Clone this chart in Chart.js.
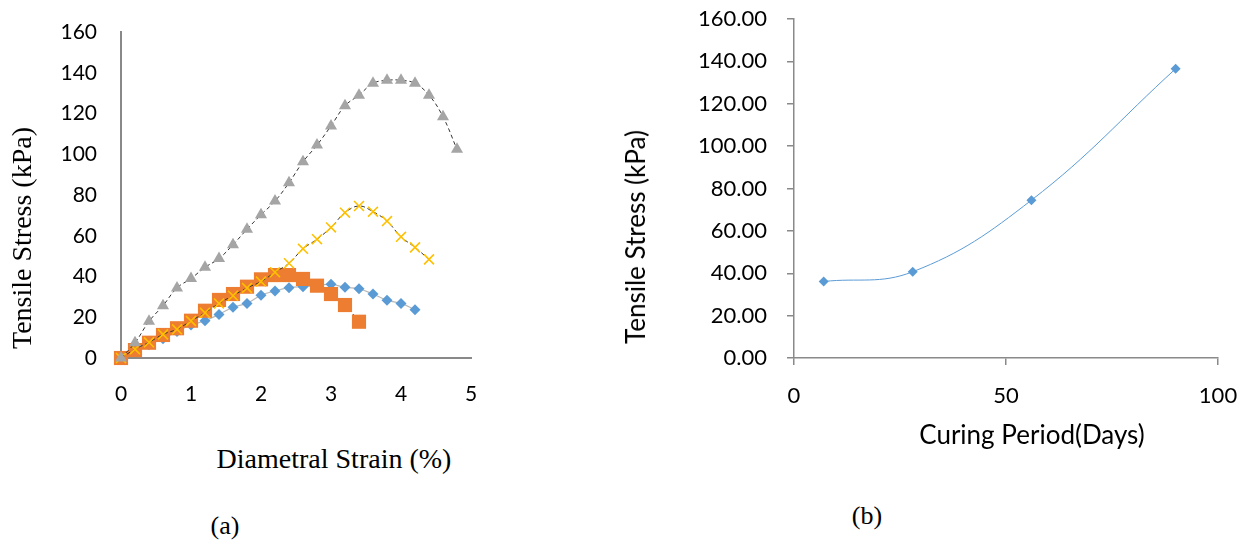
<!DOCTYPE html>
<html>
<head>
<meta charset="utf-8">
<script src="https://cdn.jsdelivr.net/npm/chart.js@4.4.0/dist/chart.umd.min.js"></script>
<style>
  body { margin: 0; background: #fff; width: 1243px; height: 540px; position: relative; overflow: hidden; }
  canvas { position: absolute; top: 0; }
  .lbl { position: absolute; line-height: 1; white-space: nowrap; color: #000; transform: translate(-50%, -50%); }
  .serif { font-family: "Liberation Serif", "Times New Roman", serif; }
  .sans { font-family: Lato, "Open Sans", sans-serif; }
  .rot { transform: translate(-50%, -50%) rotate(-90deg); }
</style>
</head>
<body>
<canvas id="chartA" width="500" height="420" style="left:0"></canvas>
<canvas id="chartB" width="643" height="420" style="left:600px"></canvas>

<div class="lbl serif rot" style="left:22px; top:238px; font-size:28px">Tensile Stress (kPa)</div>
<div class="lbl serif" style="left:334px; top:459px; font-size:28px">Diametral Strain (%)</div>
<div class="lbl serif" style="left:225px; top:526px; font-size:26px">(a)</div>

<div class="lbl sans rot" style="left:635px; top:237px; font-size:26px">Tensile Stress (kPa)</div>
<div class="lbl sans" style="left:1032px; top:434px; font-size:26px">Curing Period(Days)</div>
<div class="lbl serif" style="left:867px; top:516px; font-size:26px">(b)</div>

<script>
// (a) diametral strain (%) readings, shared by the four specimens
const strain = [0, 0.2, 0.4, 0.6, 0.8, 1.0, 1.2, 1.4, 1.6, 1.8, 2.0, 2.2, 2.4,
                2.6, 2.8, 3.0, 3.2, 3.4, 3.6, 3.8, 4.0, 4.2, 4.4, 4.6, 4.8];

// tensile stress (kPa) per specimen
const stressBlue   = [0, 3, 6.5, 9.5, 13, 16.2, 18.3, 21.4, 24.9, 26.8, 30.8, 32.9, 34.5,
                      35, 35.5, 36.2, 34.7, 34, 31.4, 28.3, 26.8, 23.7];
const stressOrange = [0, 3.9, 7.5, 11.3, 14.6, 18.3, 23.2, 28.5, 31.4, 35, 38.6, 40.7, 40.7,
                      38.8, 35.5, 31.4, 26, 17.8];
const stressGrey   = [0, 7.5, 18, 25.7, 34.4, 39, 44.5, 48.8, 55.6, 63.2, 70.3, 77, 86,
                      96.3, 104.5, 113.9, 123.8, 129, 134.8, 136.3, 136.3, 134.8, 129, 118.4, 102.4];
const stressYellow = [0, 4.3, 7.7, 11.6, 14.1, 18.2, 22.2, 26.8, 30.6, 34.4, 37.5, 42.1, 46.5,
                      53.6, 58.3, 64.1, 71.3, 74.6, 71.8, 67.2, 59.5, 54.3, 48.4];

// (b) curing period vs peak tensile stress
const curingDays = [7, 28, 56, 90];
const peakStress = [36.1, 40.7, 74.5, 136.5];

const ticksA = { min: 0, max: 160, step: 20 };
const ticksAX = { min: 0, max: 5, step: 1 };

function pts(ys) {
  return ys.map((y, i) => ({ x: strain[i], y: y }));
}

// fixed axis boxes, no extra room for edge labels (layout padding handles it)
function fixY(w) {
  return s => { s.width = w; s.paddingTop = 0; s.paddingBottom = 0; };
}
function fixX(h) {
  return s => { s.height = h; s.paddingLeft = 0; s.paddingRight = 0; };
}

const axisGrey = '#898989';

new Chart(document.getElementById('chartA'), {
  type: 'line',
  data: {
    datasets: [
      {
        label: 'grey', data: pts(stressGrey), clip: false,
        borderColor: '#333', borderWidth: 1, borderDash: [4, 3], tension: 0.4,
        pointStyle: 'triangle', pointRadius: 7, pointBackgroundColor: '#A5A5A5', pointBorderColor: '#A5A5A5', pointBorderWidth: 0
      },
      {
        label: 'yellow', data: pts(stressYellow), clip: false,
        borderColor: '#333', borderWidth: 1, borderDash: [4, 3], tension: 0.4,
        pointStyle: 'crossRot', pointRadius: 7, pointBorderColor: '#FFC000', pointBorderWidth: 1.6
      },
      {
        label: 'orange', data: pts(stressOrange), clip: false,
        borderColor: '#333', borderWidth: 1, borderDash: [4, 3], tension: 0.4,
        pointStyle: 'rect', pointRadius: 10, pointBackgroundColor: '#ED7D31', pointBorderColor: '#ED7D31', pointBorderWidth: 0
      },
      {
        label: 'blue', data: pts(stressBlue), clip: false,
        borderColor: '#b8b8b8', borderWidth: 1.2, tension: 0.4,
        pointStyle: 'rectRot', pointRadius: 5.5, pointBackgroundColor: '#5B9BD5', pointBorderColor: '#5B9BD5', pointBorderWidth: 0
      }
    ]
  },
  options: {
    responsive: false,
    animation: false,
    layout: { padding: { left: 0, top: 32, right: 29, bottom: 0 } },
    plugins: { legend: { display: false }, tooltip: { enabled: false } },
    scales: {
      x: {
        type: 'linear', min: ticksAX.min, max: ticksAX.max,
        ticks: { stepSize: ticksAX.step, padding: 24, color: '#000', font: { family: 'Lato', size: 21 } },
        grid: { display: false, drawTicks: false },
        border: { display: true, color: axisGrey, width: 2 },
        afterFit: fixX(62)
      },
      y: {
        min: ticksA.min, max: ticksA.max,
        ticks: { stepSize: ticksA.step, padding: 24, color: '#000', font: { family: 'Lato', size: 21 } },
        grid: { display: false, drawTicks: false },
        border: { display: true, color: axisGrey, width: 2 },
        afterFit: fixY(121)
      }
    }
  }
});

new Chart(document.getElementById('chartB'), {
  type: 'line',
  data: {
    datasets: [{
      label: 'Tensile Stress', clip: false,
      data: curingDays.map((d, i) => ({ x: d, y: peakStress[i] })),
      borderColor: '#5B9BD5', borderWidth: 1, tension: 0.4,
      pointStyle: 'rectRot', pointRadius: 5,
      pointBackgroundColor: '#5B9BD5', pointBorderColor: '#5B9BD5', pointBorderWidth: 0
    }]
  },
  options: {
    responsive: false,
    animation: false,
    layout: { padding: { left: 0, top: 19, right: 25, bottom: 0 } },
    plugins: { legend: { display: false }, tooltip: { enabled: false } },
    scales: {
      x: {
        type: 'linear', min: 0, max: 100,
        ticks: { stepSize: 50, padding: 18, color: '#000', font: { family: 'Lato', size: 22 } },
        grid: { drawOnChartArea: false, drawTicks: true, tickLength: 7, color: axisGrey, lineWidth: 1.5 },
        border: { display: true, color: axisGrey, width: 1.5 },
        afterFit: fixX(62)
      },
      y: {
        min: 0, max: 160,
        ticks: { stepSize: 20, padding: 20, color: '#000', font: { family: 'Lato', size: 22 },
                 callback: v => v.toFixed(2) },
        grid: { drawOnChartArea: false, drawTicks: true, tickLength: 7, color: axisGrey, lineWidth: 1.5 },
        border: { display: true, color: axisGrey, width: 1.5 },
        afterFit: fixY(194)
      }
    }
  }
});
</script>
</body>
</html>
